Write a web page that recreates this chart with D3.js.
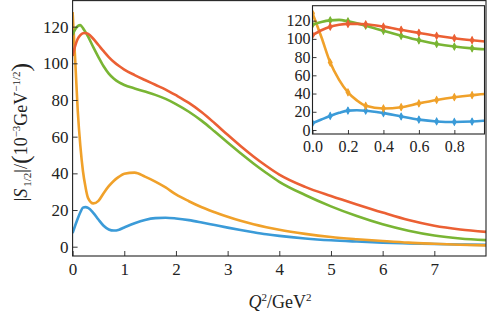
<!DOCTYPE html>
<html>
<head>
<meta charset="utf-8">
<script src="https://cdn.jsdelivr.net/npm/d3@7"></script>
<style>
  body { margin: 0; background: #fff; }
  svg text { font-family: "Liberation Serif", "Times New Roman", "Liberation Sans", Arial, sans-serif !important; fill: #222; }
</style>
</head>
<body>
<svg id="chart" width="488" height="317"></svg>
<script>
// Q^2 grid (GeV^2) and |S_1/2| values (10^-3 GeV^-1/2)
const q2 = [0, 0.05, 0.1, 0.15, 0.2, 0.25, 0.3, 0.4, 0.5, 0.6, 0.7, 0.8, 0.9, 1.0,
  1.2, 1.4, 1.6, 1.8, 2.0, 2.25, 2.5, 2.75, 3.0, 3.25, 3.5, 3.75, 4.0, 4.5, 5.0,
  5.5, 6.0, 6.5, 7.0, 7.5, 8.0];

const sBlue = [7.5, 11.5, 15.4, 18.8, 21.3, 21.6, 21.2, 18.5, 14.8, 11.4, 9.4, 8.8, 9.3, 10.5,
  12.8, 14.6, 15.6, 15.8, 15.4, 14.5, 13.2, 11.8, 10.4, 9.1, 7.9, 6.8, 5.9, 4.5, 3.5,
  2.8, 2.2, 1.8, 1.5, 1.2, 1.0];

const sOrange = [128, 102, 74, 55, 41.3, 32.5, 26.5, 23.6, 25, 29.2, 33, 36, 38.2, 39.8,
  40.4, 38.2, 35.5, 32.3, 28.5, 24.8, 21.5, 18.8, 16.3, 14.1, 12.2, 10.6, 9.2, 7, 5.3,
  4.1, 3.1, 2.2, 1.6, 1.1, 0.7];

const sGreen = [115.5, 118.5, 120.3, 120.8, 119.2, 117, 114.5, 108.8, 103.4, 98.4, 94.4, 91.6, 89.6, 88.2,
  86.3, 84.6, 82.8, 80.6, 77.8, 73.6, 68.6, 62.8, 56.8, 51, 45.4, 40.2, 35.4, 28.2, 22,
  16.7, 12.2, 8.7, 6.1, 4.5, 3.6];

const sRed = [104, 109.5, 113.4, 115.4, 116.4, 116.5, 116, 113.4, 110, 106.6, 103.4, 100.7, 98.5, 96.6,
  93.6, 90.9, 88.3, 85.7, 82.6, 78.4, 73.3, 67.3, 61, 54.9, 49.2, 44, 39.3, 32.6, 27.6,
  23, 18.6, 14.5, 11.4, 9.4, 8.1];

const seriesNames = ["blue", "orange", "green", "red"];
const seriesColors = ["#3b9bd8", "#f0a12a", "#79b534", "#eb6034"];

const mainXMajor = [0, 1, 2, 3, 4, 5, 6, 7];
const mainYMajor = [0, 20, 40, 60, 80, 100, 120];
const insetXMajor = [0, 0.2, 0.4, 0.6, 0.8];
const insetYMajor = [0, 20, 40, 60, 80, 100, 120];
const insetMarkQ = [0, 0.1, 0.2, 0.3, 0.4, 0.5, 0.6, 0.7, 0.8, 0.9];

const series = [sBlue, sOrange, sGreen, sRed].map((vals, i) => ({
  name: seriesNames[i],
  color: seriesColors[i],
  values: q2.map((q, j) => ({ q: q, v: vals[j] }))
}));

const svg = d3.select("#chart");
const defs = svg.append("defs");

// --------------------------------------------------
// panel helper
// --------------------------------------------------

function drawPanel(opt) {

  const x = d3.scaleLinear().domain(opt.xDomain).range([opt.left, opt.right]);
  const y = d3.scaleLinear().domain(opt.yDomain).range([opt.bottom, opt.top]);

  const g = svg.append("g");

  g.append("rect")
    .attr("x", opt.left).attr("y", opt.top)
    .attr("width", opt.right - opt.left).attr("height", opt.bottom - opt.top)
    .attr("fill", "#fff");

  defs.append("clipPath").attr("id", opt.id)
    .append("rect")
    .attr("x", opt.left).attr("y", opt.top)
    .attr("width", opt.right - opt.left).attr("height", opt.bottom - opt.top);

  const line = d3.line()
    .x(d => x(d.q))
    .y(d => y(d.v))
    .curve(d3.curveMonotoneX);

  const plot = g.append("g").attr("clip-path", `url(#${opt.id})`);

  plot.selectAll("path.series")
    .data(series)
    .enter()
    .append("path")
    .attr("class", "series")
    .attr("fill", "none")
    .attr("stroke", d => d.color)
    .attr("stroke-width", opt.lineWidth)
    .attr("stroke-linejoin", "round")
    .attr("d", d => line(d.values));

  if (opt.markers) {
    series.forEach(s => {
      const pts = s.values.filter(d => insetMarkQ.some(m => Math.abs(m - d.q) < 1e-9));
      const mk = plot.append("g").selectAll("g").data(pts).enter().append("g")
        .attr("transform", d => `translate(${x(d.q)},${y(d.v)})`);
      mk.append("path")
        .attr("d", d3.symbol().type(d3.symbolDiamond).size(22))
        .attr("fill", s.color);
      mk.append("line")
        .attr("y1", -3.5).attr("y2", 3.5)
        .attr("stroke", s.color).attr("stroke-width", 1);
    });
  }

  // ticks (inward, left and bottom only)
  const xMinor = d3.range(opt.xDomain[0], opt.xDomain[1] + 1e-9, opt.xMinorStep)
    .filter(v => !opt.xMajor.some(m => Math.abs(m - v) < 1e-9));
  const yMinor = d3.range(Math.ceil(opt.yDomain[0] / opt.yMinorStep) * opt.yMinorStep, opt.yDomain[1], opt.yMinorStep)
    .filter(v => !opt.yMajor.some(m => Math.abs(m - v) < 1e-9));

  const xAxisG = g.append("g").attr("transform", `translate(0,${opt.bottom})`);
  xAxisG.call(d3.axisBottom(x).tickValues(xMinor).tickSize(-opt.minorLen).tickFormat(""));
  xAxisG.call(d3.axisBottom(x).tickValues(opt.xMajor).tickSize(-opt.majorLen).tickPadding(opt.xPad).tickFormat(opt.xFormat));

  const yAxisG = g.append("g").attr("transform", `translate(${opt.left},0)`);
  yAxisG.call(d3.axisLeft(y).tickValues(yMinor).tickSize(-opt.minorLen).tickFormat(""));
  yAxisG.call(d3.axisLeft(y).tickValues(opt.yMajor).tickSize(-opt.majorLen).tickPadding(opt.yPad).tickFormat(d3.format("d")));

  g.selectAll(".domain").remove();
  g.selectAll("g").attr("font-family", null);
  g.selectAll(".tick line").attr("stroke", "#222").attr("stroke-width", 0.9);
  g.selectAll(".tick text")
    .attr("font-size", opt.fontSize)
    .attr("fill", "#222");

  g.append("rect")
    .attr("x", opt.left).attr("y", opt.top)
    .attr("width", opt.right - opt.left).attr("height", opt.bottom - opt.top)
    .attr("fill", "none")
    .attr("stroke", "#222")
    .attr("stroke-width", 1.1);

  return { x, y, g };
}

// --------------------------------------------------
// MAIN PANEL
// --------------------------------------------------

drawPanel({
  id: "clipMain",
  left: 72.6, right: 486, top: 0.6, bottom: 256,
  xDomain: [0, 8], yDomain: [-5.07, 134.2],
  xMajor: mainXMajor, yMajor: mainYMajor,
  xMinorStep: 0.2, yMinorStep: 5,
  xFormat: d3.format("d"),
  majorLen: 5, minorLen: 3,
  xPad: 7, yPad: 4,
  fontSize: 17,
  lineWidth: 2.6,
  markers: false
});

// --------------------------------------------------
// INSET
// --------------------------------------------------

drawPanel({
  id: "clipInset",
  left: 312.5, right: 484.5, top: 5.7, bottom: 134,
  xDomain: [0, 0.97], yDomain: [-4.4, 136.4],
  xMajor: insetXMajor, yMajor: insetYMajor,
  xMinorStep: 0.05, yMinorStep: 5,
  xFormat: d3.format(".1f"),
  majorLen: 4, minorLen: 2.2,
  xPad: 7, yPad: 2,
  fontSize: 16,
  lineWidth: 2.6,
  markers: true
});

// --------------------------------------------------
// AXIS LABELS
// --------------------------------------------------

const xLab = svg.append("text")
  .attr("x", 280).attr("y", 308)
  .attr("text-anchor", "middle")
  .attr("font-size", 18);
xLab.append("tspan").attr("font-style", "italic").text("Q");
xLab.append("tspan").attr("font-size", 11).attr("dy", -7).text("2");
xLab.append("tspan").attr("dy", 7).text("/GeV");
xLab.append("tspan").attr("font-size", 11).attr("dy", -7).text("2");

const yLab = svg.append("text")
  .attr("transform", "translate(27,132) rotate(-90)")
  .attr("text-anchor", "middle")
  .attr("font-size", 18);
yLab.append("tspan").text("|");
yLab.append("tspan").attr("font-style", "italic").text("S");
yLab.append("tspan").attr("font-size", 11).attr("dx", 2).attr("dy", 4).text("1/2");
yLab.append("tspan").attr("dy", -4).text("|/");
yLab.append("tspan").attr("font-size", 26).attr("dy", 2).text("(");
yLab.append("tspan").attr("dy", -2).text("10");
yLab.append("tspan").attr("font-size", 11).attr("dy", -7).text("\u22123");
yLab.append("tspan").attr("dy", 7).text("GeV");
yLab.append("tspan").attr("font-size", 11).attr("dy", -7).text("\u22121/2");
yLab.append("tspan").attr("font-size", 26).attr("dy", 9).text(")");
</script>
</body>
</html>
